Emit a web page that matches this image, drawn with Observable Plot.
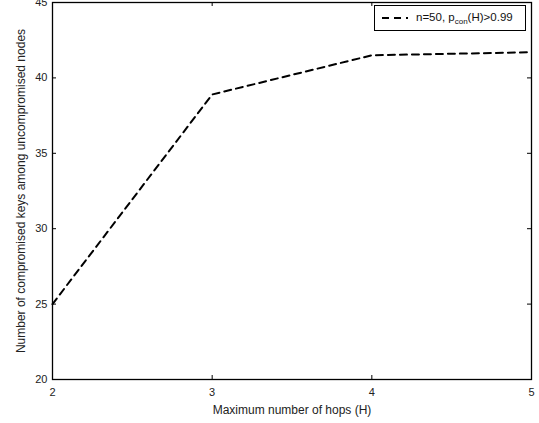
<!DOCTYPE html>
<html><head><meta charset="utf-8">
<script src="https://cdn.jsdelivr.net/npm/d3@7"></script>
<script src="https://cdn.jsdelivr.net/npm/@observablehq/plot@0.6"></script>
<style>
html,body{margin:0;padding:0;background:#fff;}
#wrap{position:relative;width:539px;height:423px;font-family:"Liberation Sans",Arial,sans-serif;}
#legend{position:absolute;left:374px;top:5px;width:152px;height:26px;border:1px solid #000;background:#fff;font-size:11.5px;display:flex;align-items:center;box-sizing:border-box;color:#111;}
#legend svg{margin-left:7px;margin-right:8px;}
sub{font-size:8px;vertical-align:-3px;}
</style></head>
<body><div id="wrap"></div>
<script>
const hops = [2, 3, 4, 5];
const keys = [25.0, 38.9, 41.5, 41.7];
const xTicks = [2, 3, 4, 5];
const yTicks = [20, 25, 30, 35, 40, 45];
const xLabel = "Maximum number of hops (H)";
const yLabel = "Number of compromised keys among uncompromised nodes";
const seriesName = "n=50, p<sub>con</sub>(H)>0.99";
const data = hops.map((h, i) => ({h, k: keys[i]}));

const W = 539, H = 423, mT = 2, mB = 44, mL = 52, mR = 8;
const pw = W - mL - mR, ph = H - mT - mB, tl = 4;
const blank = () => "";

const chart = Plot.plot({
  width: W, height: H,
  marginTop: mT, marginBottom: mB, marginLeft: mL, marginRight: mR,
  style: {fontFamily: "Liberation Sans, Arial, sans-serif", fontSize: "11px", color: "#000", background: "#fff", overflow: "visible"},
  x: {domain: [2, 5]},
  y: {domain: [20, 45]},
  marks: [
    Plot.axisX(xTicks, {anchor: "bottom", tickSize: 0, tickPadding: 9, tickFormat: "d", label: null, fontSize: 11, fill: "#222"}),
    Plot.axisY(yTicks, {anchor: "left", tickSize: 0, tickPadding: 5, tickFormat: "d", label: null, fontSize: 11, fill: "#222"}),
    Plot.axisX(xTicks, {anchor: "bottom", tickSize: 0, tickFormat: blank, label: xLabel, labelAnchor: "center", labelArrow: "none", labelOffset: 34, fontSize: 12, fill: "#222"}),
    Plot.axisY(yTicks, {anchor: "left", tickSize: 0, tickFormat: blank, label: yLabel, labelAnchor: "center", labelArrow: "none", labelOffset: 36, fontSize: 12, fill: "#222"}),
    Plot.tickX(xTicks, {x: d => d, insetTop: ph - tl, stroke: "#000"}),
    Plot.tickX(xTicks, {x: d => d, insetBottom: ph - tl, stroke: "#000"}),
    Plot.tickY(yTicks, {y: d => d, insetRight: pw - tl, stroke: "#000"}),
    Plot.tickY(yTicks, {y: d => d, insetLeft: pw - tl, stroke: "#000"}),
    Plot.frame({stroke: "#000", strokeWidth: 1.3}),
    Plot.line(data, {x: "h", y: "k", stroke: "#000", strokeWidth: 2, strokeDasharray: "7,5"})
  ]
});
const wrap = document.getElementById("wrap");
wrap.appendChild(chart);
const lg = document.createElement("div");
lg.id = "legend";
lg.innerHTML = '<svg width="26" height="6"><line x1="0" y1="3" x2="26" y2="3" stroke="#000" stroke-width="2" stroke-dasharray="7,5"/></svg><span>' + seriesName + '</span>';
wrap.appendChild(lg);
</script></body></html>
